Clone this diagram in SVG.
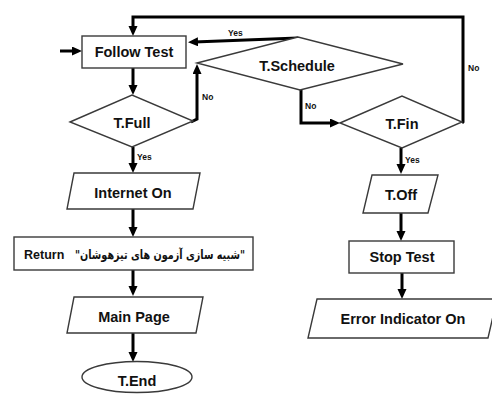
<svg xmlns="http://www.w3.org/2000/svg" width="492" height="399" viewBox="0 0 492 399">
  <defs>
    <marker id="arrow" markerUnits="userSpaceOnUse" markerWidth="11" markerHeight="10" refX="4" refY="4.5" orient="auto">
      <path d="M0,0 L10,4.5 L0,9 Z" fill="#000"/>
    </marker>
    <style>
      .shape { fill: #fff; stroke: #3a3a3a; stroke-width: 1.4; }
      .flow { fill: none; stroke: #000; stroke-width: 3; stroke-linejoin: miter; marker-end: url(#arrow); }
      .label { font-family: "Liberation Sans", Arial, "DejaVu Sans", sans-serif; font-weight: bold; font-size: 14.5px; fill: #111; text-anchor: middle; }
      .fa { font-family: "DejaVu Sans", sans-serif; font-weight: bold; font-size: 12.5px; fill: #111; }
      .small { font-family: "Liberation Sans", Arial, sans-serif; font-weight: bold; font-size: 8.5px; fill: #111; }
    </style>
  </defs>
  <rect width="492" height="399" fill="#fff"/>

  <!-- connectors -->
  <g id="connectors">
    <path class="flow" d="M60,51 H76"/>
    <path class="flow" d="M133,68 V89"/>
    <path class="flow" d="M133,147 V167"/>
    <path class="flow" d="M133,209 V231"/>
    <path class="flow" d="M133,270 V290"/>
    <path class="flow" d="M133,333 V356"/>
    <path class="flow" d="M191,122 L197,119 V70"/>
    <path class="flow" d="M298,38 L194,42"/>
    <path class="flow" d="M301,90 V123 H334"/>
    <path class="flow" d="M462,123 L463,122 V17 H133 V30"/>
    <path class="flow" d="M401,148 V168"/>
    <path class="flow" d="M401,213 V235"/>
    <path class="flow" d="M402,273 V293"/>
    <text class="small" x="228" y="36">Yes</text>
    <text class="small" x="202" y="100">No</text>
    <text class="small" x="137" y="160">Yes</text>
    <text class="small" x="305" y="109">No</text>
    <text class="small" x="468" y="71">No</text>
    <text class="small" x="405" y="163">Yes</text>
  </g>

  <g id="follow-test">
    <rect class="shape" x="82" y="36" width="104" height="32"/>
    <text class="label" x="134" y="57">Follow Test</text>
  </g>

  <g id="t-full">
    <polygon class="shape" points="70,122 132,95 193,121 132,147"/>
    <text class="label" x="132" y="128">T.Full</text>
  </g>

  <g id="t-schedule">
    <polygon class="shape" points="197,63 298,37 403,64 300,90"/>
    <text class="label" x="297" y="71">T.Schedule</text>
  </g>

  <g id="t-fin">
    <polygon class="shape" points="340,123 402,96 462,122 402,148"/>
    <text class="label" x="402" y="129">T.Fin</text>
  </g>

  <g id="internet-on">
    <polygon class="shape" points="74,173 200,173 193,209 67,209"/>
    <text class="label" x="133" y="198">Internet On</text>
  </g>

  <g id="return">
    <rect class="shape" x="14" y="237" width="239" height="33"/>
    <text class="label" x="24" y="259" font-size="12.5" style="text-anchor:start;font-size:12.5px">Return</text>
    <text class="fa" x="75" y="259" textLength="170" lengthAdjust="spacingAndGlyphs">"شبیه سازی آزمون های تیزهوشان"</text>
  </g>

  <g id="main-page">
    <polygon class="shape" points="74,297 203,297 196,333 67,333"/>
    <text class="label" x="134" y="322">Main Page</text>
  </g>

  <g id="t-end">
    <ellipse class="shape" cx="137" cy="377" rx="55" ry="15.5"/>
    <text class="label" x="137" y="386">T.End</text>
  </g>

  <g id="t-off">
    <polygon class="shape" points="372,175 438,175 428,213 363,213"/>
    <text class="label" x="401" y="200">T.Off</text>
  </g>

  <g id="stop-test">
    <rect class="shape" x="349" y="241" width="105" height="32"/>
    <text class="label" x="402" y="262">Stop Test</text>
  </g>

  <g id="error-indicator">
    <polygon class="shape" points="317,299 497,299 488,338 308,338"/>
    <text class="label" x="403" y="324">Error Indicator On</text>
  </g>
</svg>
